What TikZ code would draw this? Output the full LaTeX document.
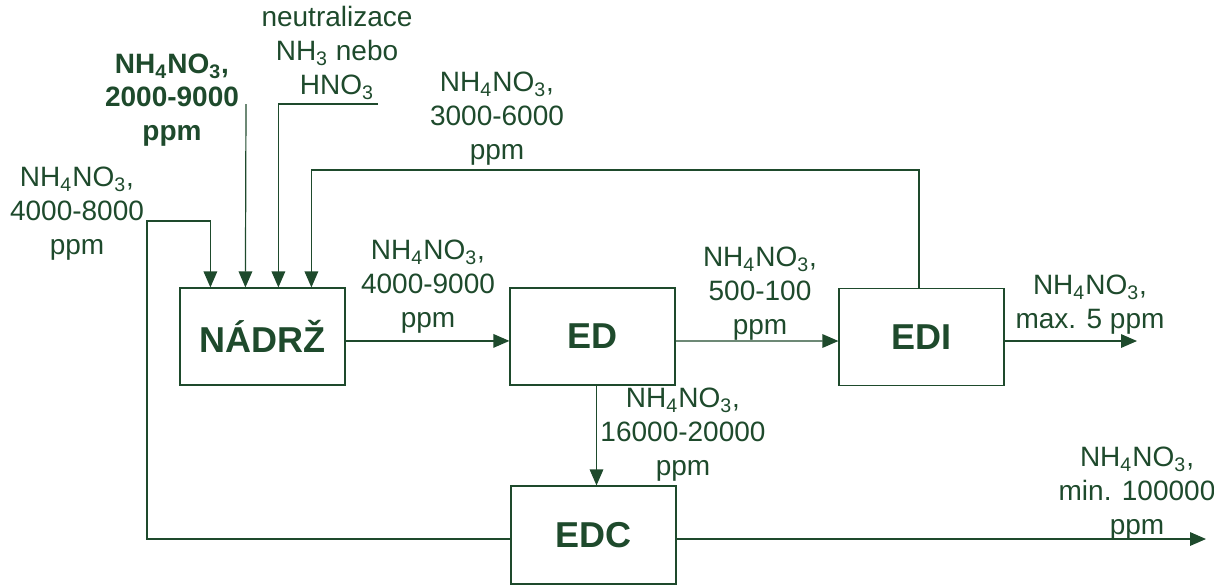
\documentclass[tikz,border=0pt]{standalone}
\usepackage{fontspec}
\setmainfont{Liberation Sans}
\usetikzlibrary{arrows.meta}
\definecolor{dg}{RGB}{30,74,44}
\newcommand{\amn}{NH\textsubscript{4}NO\textsubscript{3},}
\begin{document}
\begin{tikzpicture}[x=0.5pt,y=-0.5pt,
  every node/.style={text=dg},
  box/.style={draw=dg,line width=0.6pt,minimum width=82.5pt,minimum height=48.5pt,inner sep=0pt,font=\fontsize{18}{21}\selectfont\bfseries},
  lbl/.style={align=center,inner sep=0pt,font=\fontsize{14}{17}\selectfont},
  conn/.style={draw=dg,line width=0.6pt},
  arr/.style={conn,-{Triangle[length=8pt,width=6.8pt]}}]
\useasboundingbox (0,0) rectangle (1214,586);
\node[box] (nadrz) at (262.5,336.5) {NÁDRŽ};
\node[box] (ed) at (592.5,336.5) {ED};
\node[box] (edi) at (921.5,337) {EDI};
\node[box,minimum height=49pt] (edc) at (593.5,535) {EDC};
\coordinate (edio) at (1137,341);
\coordinate (edco) at (1206,539);
\coordinate (ll) at (147,221);
\coordinate (s2) at (246,104);
\coordinate (s3) at (378,104);
\coordinate (fb) at (919,170);
\draw[arr] ([yshift=-2.2pt]nadrz.east) -- ([yshift=-2.2pt]ed.west);
\draw[arr] ([yshift=-2.2pt]ed.east) -- ([yshift=-2pt]edi.west);
\draw[arr] ([yshift=-2pt]edi.east) -- (edio);
\draw[arr] ([xshift=2pt]ed.south) -- ([xshift=1.5pt]edc.north);
\draw[arr] ([yshift=-2pt]edc.east) -- (edco);
\draw[arr] ([yshift=-2pt]edc.west) -| (ll) -| ([xshift=15.5pt]nadrz.north west);
\draw[arr] (s2) -- ([xshift=33pt]nadrz.north west);
\draw[arr] (s3) -| ([xshift=49.5pt]nadrz.north west);
\draw[arr] (edi.north -| fb) -- (fb) -| ([xshift=66pt]nadrz.north west);
\node[lbl] (t1) at (337,53) {neutralizace\\NH\textsubscript{3} nebo\\HNO\textsubscript{3}};
\node[lbl,font=\fontsize{14}{16.6}\selectfont\bfseries] (t2) at (172,100) {\amn\\2000-9000\\ppm};
\node[lbl] (t3) at (77,214) {\amn\\4000-8000\\ppm};
\node[lbl] (t4) at (497,119) {\amn\\3000-6000\\ppm};
\node[lbl] (t5) at (428,287) {\amn\\4000-9000\\ppm};
\node[lbl] (t6) at (760,294) {\amn\\500-100\\ppm};
\node[lbl] (t7) at (1090,305) {\amn\\max. 5 ppm};
\node[lbl] (t8) at (683,435) {\amn\\16000-20000\\ppm};
\node[lbl] (t9) at (1137,494) {\amn\\min. 100000\\ppm};
\end{tikzpicture}
\end{document}
